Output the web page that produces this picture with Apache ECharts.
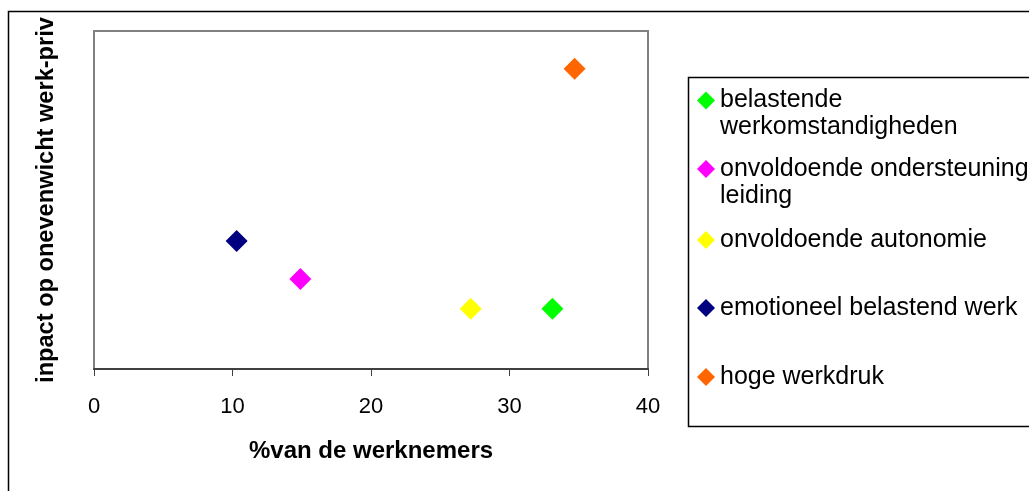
<!DOCTYPE html>
<html>
<head>
<meta charset="utf-8">
<script src="https://cdn.jsdelivr.net/npm/echarts@6/dist/echarts.min.js"></script>
<style>
  html, body { margin: 0; padding: 0; background: #fff; }
  #chart { width: 1029px; height: 491px; }
</style>
</head>
<body>
<div id="chart"></div>
<script>
// Oorzaken van onevenwicht werk-privé: aandeel werknemers vs. impact
const categories = [
  'belastende\nwerkomstandigheden',
  'onvoldoende ondersteuning\nleiding',
  'onvoldoende autonomie',
  'emotioneel belastend werk',
  'hoge werkdruk'
];
const pctWorkers = [33.1, 14.9, 27.2, 10.3, 34.7];
const impactScore = [0.178, 0.266, 0.178, 0.379, 0.888];
const seriesColors = ['#00FF00', '#FF00FF', '#FFFF00', '#000080', '#FF6600'];
const xTicks = [0, 10, 20, 30, 40];

const FONT = '"Liberation Sans", Arial, sans-serif';
const LINE_H = 27;
// vertical centre of each legend entry's first line
const legendRowY = [100.5, 169, 240, 308, 377];

const chart = echarts.init(document.getElementById('chart'), null, { renderer: 'canvas' });

// two-line entries get a leading blank line so the marker sits on the first text line
const legendLabel = (name) => (name.indexOf('\n') >= 0 ? '\n' + name : name);

const legends = categories.map((name, i) => {
  const nLines = legendLabel(name).split('\n').length;
  return {
    left: 697,
    top: legendRowY[i] - nLines * LINE_H / 2,
    padding: 0,
    itemWidth: 18,
    itemHeight: 18,
    selectedMode: false,
    formatter: legendLabel,
    data: [{ name: name, icon: 'diamond' }],
    textStyle: {
      fontFamily: FONT,
      fontSize: 25,
      color: '#000',
      lineHeight: LINE_H
    }
  };
});

chart.setOption({
  animation: false,
  backgroundColor: '#fff',
  grid: {
    left: 94, right: 381, top: 31, bottom: 122,
    show: true,
    borderColor: '#808080',
    borderWidth: 2,
    backgroundColor: '#fff'
  },
  legend: legends,
  xAxis: {
    type: 'value',
    min: xTicks[0],
    max: xTicks[xTicks.length - 1],
    interval: xTicks[1] - xTicks[0],
    name: '%van de werknemers',
    nameLocation: 'middle',
    nameGap: 70,
    nameTextStyle: { fontFamily: FONT, fontSize: 24, fontWeight: 'bold', color: '#000' },
    axisLine: { show: true, lineStyle: { color: '#404040', width: 2 } },
    axisTick: { show: true, length: 7, lineStyle: { color: '#404040', width: 1 } },
    axisLabel: { fontFamily: FONT, fontSize: 22, color: '#000', margin: 27 },
    splitLine: { show: false }
  },
  yAxis: {
    type: 'value',
    min: 0,
    max: 1,
    name: 'inpact op onevenwicht werk-priv',
    nameLocation: 'middle',
    nameGap: 36,
    nameTextStyle: { fontFamily: FONT, fontSize: 23.6, fontWeight: 'bold', color: '#000' },
    axisLine: { show: false },
    axisTick: { show: false },
    axisLabel: { show: false },
    splitLine: { show: false }
  },
  graphic: [
    {
      type: 'rect',
      shape: { x: 8.5, y: 11.5, width: 1100, height: 600 },
      style: { fill: 'none', stroke: '#000', lineWidth: 1.5 },
      silent: true,
      z: -1
    },
    {
      type: 'rect',
      shape: { x: 688.5, y: 77.5, width: 400, height: 349 },
      style: { fill: 'none', stroke: '#000', lineWidth: 1.5 },
      silent: true
    }
  ],
  series: categories.map((name, i) => ({
    name: name,
    type: 'scatter',
    symbol: 'diamond',
    symbolSize: 22,
    itemStyle: { color: seriesColors[i], opacity: 1 },
    data: [[pctWorkers[i], impactScore[i]]]
  }))
});
</script>
</body>
</html>
